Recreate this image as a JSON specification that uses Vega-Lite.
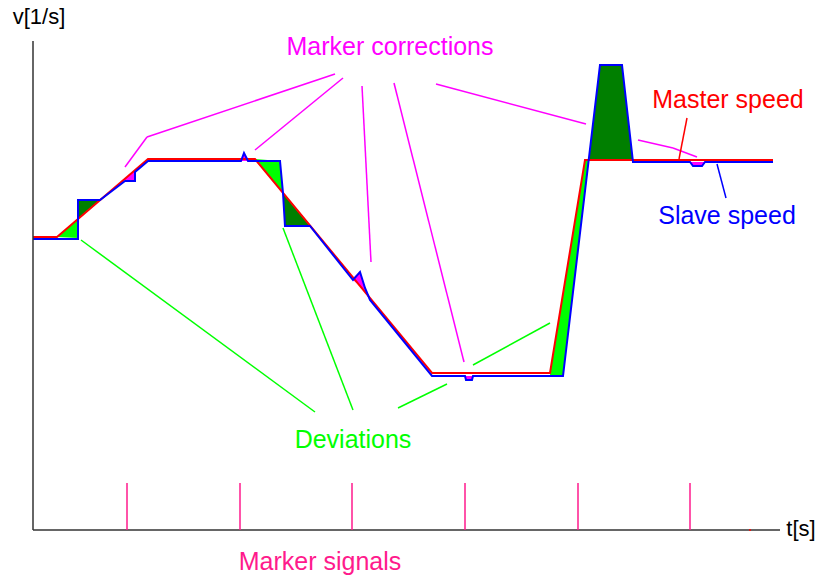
{
  "$schema": "https://vega.github.io/schema/vega-lite/v6.json",
  "width": 817,
  "height": 578,
  "autosize": {"type": "fit", "contains": "padding"},
  "padding": 0,
  "background": "white",
  "config": {"view": {"stroke": null}},
  "datasets": {
    "master": [
      {"i": 0, "t": 0, "v": 293}, {"i": 1, "t": 24, "v": 293}, {"i": 2, "t": 115, "v": 371},
      {"i": 3, "t": 222, "v": 371}, {"i": 4, "t": 399, "v": 157}, {"i": 5, "t": 517, "v": 157},
      {"i": 6, "t": 552, "v": 370}, {"i": 7, "t": 740, "v": 370}
    ],
    "slave": [
      {"i": 0, "t": 0, "v": 291}, {"i": 1, "t": 45, "v": 291}, {"i": 2, "t": 45, "v": 330},
      {"i": 3, "t": 67, "v": 330}, {"i": 4, "t": 92, "v": 349}, {"i": 5, "t": 102, "v": 349},
      {"i": 6, "t": 102, "v": 358}, {"i": 7, "t": 115, "v": 369}, {"i": 8, "t": 208, "v": 369},
      {"i": 9, "t": 211, "v": 377}, {"i": 10, "t": 215, "v": 369}, {"i": 11, "t": 247, "v": 369},
      {"i": 12, "t": 250, "v": 337}, {"i": 13, "t": 252, "v": 304}, {"i": 14, "t": 277, "v": 304},
      {"i": 15, "t": 320, "v": 250}, {"i": 16, "t": 327, "v": 258}, {"i": 17, "t": 332, "v": 242},
      {"i": 18, "t": 337, "v": 230}, {"i": 19, "t": 399, "v": 154}, {"i": 20, "t": 432, "v": 154},
      {"i": 21, "t": 433, "v": 150}, {"i": 22, "t": 439, "v": 150}, {"i": 23, "t": 440, "v": 154},
      {"i": 24, "t": 530, "v": 154}, {"i": 25, "t": 567, "v": 465}, {"i": 26, "t": 589, "v": 465},
      {"i": 27, "t": 600, "v": 368}, {"i": 28, "t": 657, "v": 368}, {"i": 29, "t": 660, "v": 364},
      {"i": 30, "t": 669, "v": 364}, {"i": 31, "t": 672, "v": 368}, {"i": 32, "t": 740, "v": 368}
    ],
    "fillsV": [
      {"p": "P1", "kind": "deviation", "t": 24, "v": 293, "v2": 293},
      {"p": "P1", "kind": "deviation", "t": 45, "v": 292, "v2": 311},
      {"p": "P2", "kind": "overshoot", "t": 45, "v": 311, "v2": 330},
      {"p": "P2", "kind": "overshoot", "t": 67, "v": 330, "v2": 330},
      {"p": "P3", "kind": "correction", "t": 92, "v": 350, "v2": 351},
      {"p": "P3", "kind": "correction", "t": 102, "v": 350, "v2": 360},
      {"p": "P4", "kind": "correction", "t": 208, "v": 369, "v2": 369},
      {"p": "P4", "kind": "correction", "t": 211, "v": 369, "v2": 377},
      {"p": "P4", "kind": "correction", "t": 215, "v": 369, "v2": 369},
      {"p": "P5", "kind": "deviation", "t": 222, "v": 370, "v2": 371},
      {"p": "P5", "kind": "deviation", "t": 247, "v": 341, "v2": 369},
      {"p": "P5", "kind": "deviation", "t": 250, "v": 337, "v2": 337},
      {"p": "P6", "kind": "overshoot", "t": 250, "v": 337, "v2": 337},
      {"p": "P6", "kind": "overshoot", "t": 252, "v": 304, "v2": 335},
      {"p": "P6", "kind": "overshoot", "t": 277, "v": 304, "v2": 305},
      {"p": "P7", "kind": "correction", "t": 320, "v": 250, "v2": 252},
      {"p": "P7", "kind": "correction", "t": 327, "v": 244, "v2": 258},
      {"p": "P7", "kind": "correction", "t": 332, "v": 238, "v2": 242},
      {"p": "P7", "kind": "correction", "t": 337, "v": 230, "v2": 232},
      {"p": "P8", "kind": "correction", "t": 432, "v": 154, "v2": 154},
      {"p": "P8", "kind": "correction", "t": 433, "v": 150, "v2": 154},
      {"p": "P8", "kind": "correction", "t": 439, "v": 150, "v2": 154},
      {"p": "P8", "kind": "correction", "t": 440, "v": 154, "v2": 154},
      {"p": "P10", "kind": "overshoot", "t": 556, "v": 370, "v2": 370},
      {"p": "P10", "kind": "overshoot", "t": 567, "v": 370, "v2": 465},
      {"p": "P10", "kind": "overshoot", "t": 589, "v": 370, "v2": 465},
      {"p": "P10", "kind": "overshoot", "t": 600, "v": 369, "v2": 369},
      {"p": "P11", "kind": "correction", "t": 657, "v": 368, "v2": 368},
      {"p": "P11", "kind": "correction", "t": 660, "v": 364, "v2": 368},
      {"p": "P11", "kind": "correction", "t": 669, "v": 364, "v2": 368},
      {"p": "P11", "kind": "correction", "t": 672, "v": 368, "v2": 368}
    ],
    "fillsH": [
      {"p": "P9", "kind": "deviation", "v": 155, "t": 517, "t2": 530},
      {"p": "P9", "kind": "deviation", "v": 370, "t": 552, "t2": 556}
    ],
    "segs": [
      {"kind": "axis", "t": 0, "v": 0, "t2": 0, "v2": 489},
      {"kind": "axis", "t": 0, "v": 0, "t2": 747, "v2": 0},
      {"kind": "marker", "t": 94, "v": 0, "t2": 94, "v2": 47},
      {"kind": "marker", "t": 207, "v": 0, "t2": 207, "v2": 47},
      {"kind": "marker", "t": 319, "v": 0, "t2": 319, "v2": 47},
      {"kind": "marker", "t": 432, "v": 0, "t2": 432, "v2": 47},
      {"kind": "marker", "t": 545, "v": 0, "t2": 545, "v2": 47},
      {"kind": "marker", "t": 657, "v": 0, "t2": 657, "v2": 47},
      {"kind": "master", "t": 717, "v": -1, "t2": 717, "v2": 1},
      {"kind": "correction", "t": 92, "v": 363, "t2": 114, "v2": 393},
      {"kind": "correction", "t": 114, "v": 393, "t2": 302, "v2": 456},
      {"kind": "correction", "t": 222, "v": 380, "t2": 310, "v2": 452},
      {"kind": "correction", "t": 329, "v": 444, "t2": 338, "v2": 268},
      {"kind": "correction", "t": 361, "v": 447, "t2": 431, "v2": 168},
      {"kind": "correction", "t": 403, "v": 446, "t2": 553, "v2": 406},
      {"kind": "correction", "t": 605, "v": 390, "t2": 640, "v2": 382},
      {"kind": "correction", "t": 640, "v": 382, "t2": 664, "v2": 373},
      {"kind": "deviation", "t": 48, "v": 290, "t2": 282, "v2": 118},
      {"kind": "deviation", "t": 250, "v": 302, "t2": 320, "v2": 120},
      {"kind": "deviation", "t": 440, "v": 165, "t2": 517, "v2": 207},
      {"kind": "deviation", "t": 365, "v": 122, "t2": 414, "v2": 146},
      {"kind": "master", "t": 654, "v": 412, "t2": 646, "v2": 371},
      {"kind": "slave", "t": 684, "v": 366, "t2": 693, "v2": 332}
    ],
    "labels": [
      {"label": "Marker corrections", "kind": "correction", "t": 357, "v": 483},
      {"label": "Master speed", "kind": "master", "t": 695, "v": 430},
      {"label": "Slave speed", "kind": "slave", "t": 694, "v": 314},
      {"label": "Deviations", "kind": "deviation", "t": 320, "v": 90},
      {"label": "Marker signals", "kind": "marker", "t": 287, "v": -32}
    ],
    "axisLabels": [
      {"label": "v[1/s]", "kind": "axis", "t": 6, "v": 513},
      {"label": "t[s]", "kind": "axis", "t": 768, "v": 1}
    ]
  },
  "resolve": {"scale": {"x": "shared", "y": "shared"}},
  "layer": [
    {
      "data": {"name": "fillsV"},
      "transform": [{"filter": "datum.kind == 'deviation'"}],
      "mark": {"type": "area", "color": "#00ff00"},
      "encoding": {
        "x": {"field": "t", "type": "quantitative", "scale": {"domain": [-33, 784], "nice": false, "zero": false}, "axis": null},
        "y": {"field": "v", "type": "quantitative", "scale": {"domain": [-48, 530], "nice": false, "zero": false}, "axis": null},
        "y2": {"field": "v2"},
        "detail": {"field": "p", "type": "nominal"}
      }
    },
    {
      "data": {"name": "fillsV"},
      "transform": [{"filter": "datum.kind == 'overshoot'"}],
      "mark": {"type": "area", "color": "#007f00"},
      "encoding": {
        "x": {"field": "t", "type": "quantitative", "axis": null},
        "y": {"field": "v", "type": "quantitative", "axis": null},
        "y2": {"field": "v2"},
        "detail": {"field": "p", "type": "nominal"}
      }
    },
    {
      "data": {"name": "fillsV"},
      "transform": [{"filter": "datum.kind == 'correction'"}],
      "mark": {"type": "area", "color": "#ff00ff"},
      "encoding": {
        "x": {"field": "t", "type": "quantitative", "axis": null},
        "y": {"field": "v", "type": "quantitative", "axis": null},
        "y2": {"field": "v2"},
        "detail": {"field": "p", "type": "nominal"}
      }
    },
    {
      "data": {"name": "fillsH"},
      "mark": {"type": "area", "orient": "horizontal", "color": "#00ff00"},
      "encoding": {
        "y": {"field": "v", "type": "quantitative", "axis": null},
        "x": {"field": "t", "type": "quantitative", "axis": null},
        "x2": {"field": "t2"},
        "detail": {"field": "p", "type": "nominal"}
      }
    },
    {
      "data": {"name": "master"},
      "mark": {"type": "line", "strokeWidth": 2, "color": "#ff0000"},
      "encoding": {
        "x": {"field": "t", "type": "quantitative", "axis": null},
        "y": {"field": "v", "type": "quantitative", "axis": null},
        "order": {"field": "i", "type": "quantitative"}
      }
    },
    {
      "data": {"name": "slave"},
      "mark": {"type": "line", "strokeWidth": 2, "color": "#0000ff"},
      "encoding": {
        "x": {"field": "t", "type": "quantitative", "axis": null},
        "y": {"field": "v", "type": "quantitative", "axis": null},
        "order": {"field": "i", "type": "quantitative"}
      }
    },
    {
      "data": {"name": "segs"},
      "mark": {"type": "rule", "strokeWidth": 1.5},
      "encoding": {
        "x": {"field": "t", "type": "quantitative", "axis": null},
        "y": {"field": "v", "type": "quantitative", "axis": null},
        "x2": {"field": "t2"},
        "y2": {"field": "v2"},
        "color": {
          "field": "kind", "type": "nominal", "legend": null,
          "scale": {
            "domain": ["axis", "master", "slave", "correction", "deviation", "marker"],
            "range": ["#333333", "#ff0000", "#0000ff", "#ff00ff", "#00ff00", "#ff1a8c"]
          }
        }
      }
    },
    {
      "data": {"name": "labels"},
      "mark": {"type": "text", "font": "Liberation Sans", "fontSize": 25, "align": "center", "baseline": "middle"},
      "encoding": {
        "x": {"field": "t", "type": "quantitative", "axis": null},
        "y": {"field": "v", "type": "quantitative", "axis": null},
        "text": {"field": "label"},
        "color": {"field": "kind", "type": "nominal", "legend": null}
      }
    },
    {
      "data": {"name": "axisLabels"},
      "mark": {"type": "text", "font": "Liberation Sans", "fontSize": 22, "align": "center", "baseline": "middle", "color": "#000000"},
      "encoding": {
        "x": {"field": "t", "type": "quantitative", "axis": null},
        "y": {"field": "v", "type": "quantitative", "axis": null},
        "text": {"field": "label"}
      }
    }
  ]
}
